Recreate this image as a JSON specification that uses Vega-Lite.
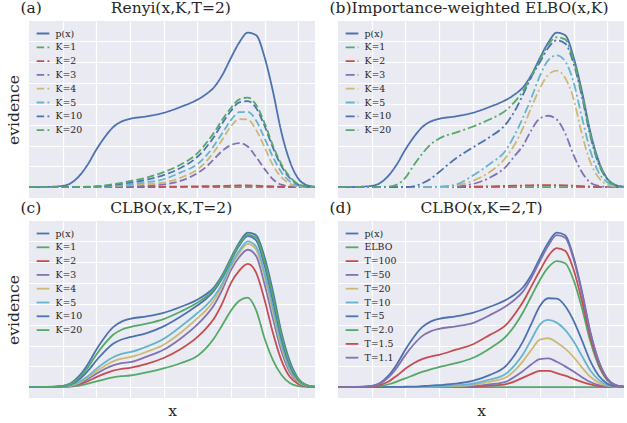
{
"$schema": "https://vega.github.io/schema/vega-lite/v6.json",
"background": "white",
"padding": {"left": 6, "top": 1, "right": 0, "bottom": 0},
"config": {
  "view": {"fill": "#EAEAF2", "stroke": null},
  "axis": {"labels": false, "ticks": false, "domain": false, "gridColor": "white", "gridWidth": 1.2, "gridOpacity": 1, "titleFont": "DejaVu Serif", "titleFontSize": 15.5, "titleFontWeight": "normal", "titleColor": "#262626"},
  "axisX": {"titleBaseline": "alphabetic", "titlePadding": 17},
  "axisY": {"titlePadding": 8},
  "title": {"font": "DejaVu Serif", "fontSize": 15.5, "fontWeight": "normal", "color": "#262626", "anchor": "start", "frame": "group", "dx": -8.5, "baseline": "alphabetic", "offset": 4.5},
  "legend": {"orient": "top-left", "offset": 5, "padding": 0, "labelFont": "DejaVu Serif", "labelFontSize": 9.4, "labelColor": "#262626", "symbolType": "stroke", "symbolSize": 160, "symbolStrokeWidth": 1.8, "symbolOffset": 1.5, "labelOffset": 5, "rowPadding": 1.8}
},
"datasets": {
"da": [
{"x":0,"p(x)":0,"K=1":0,"K=2":0,"K=3":0,"K=4":0,"K=5":0,"K=10":0,"K=20":0},
{"x":0.5,"p(x)":0.01,"K=1":0,"K=2":0,"K=3":0,"K=4":0,"K=5":0,"K=10":0,"K=20":0},
{"x":1,"p(x)":0.06,"K=1":0,"K=2":0,"K=3":0,"K=4":0,"K=5":0,"K=10":0,"K=20":0},
{"x":1.25,"p(x)":0.2,"K=1":0,"K=2":0,"K=3":0,"K=4":0,"K=5":0,"K=10":0,"K=20":0},
{"x":1.5,"p(x)":0.55,"K=1":0,"K=2":0,"K=3":0,"K=4":0,"K=5":0,"K=10":0,"K=20":0.01},
{"x":1.75,"p(x)":1.1,"K=1":0,"K=2":0,"K=3":0,"K=4":0,"K=5":0.01,"K=10":0.01,"K=20":0.02},
{"x":2,"p(x)":1.8,"K=1":0,"K=2":0,"K=3":0.01,"K=4":0.01,"K=5":0.02,"K=10":0.03,"K=20":0.04},
{"x":2.25,"p(x)":2.4,"K=1":0,"K=2":0,"K=3":0.01,"K=4":0.03,"K=5":0.04,"K=10":0.06,"K=20":0.08},
{"x":2.5,"p(x)":2.88,"K=1":0,"K=2":0,"K=3":0.02,"K=4":0.05,"K=5":0.07,"K=10":0.11,"K=20":0.14},
{"x":2.75,"p(x)":3.15,"K=1":0,"K=2":0,"K=3":0.03,"K=4":0.07,"K=5":0.1,"K=10":0.16,"K=20":0.21},
{"x":3,"p(x)":3.28,"K=1":0,"K=2":0.01,"K=3":0.04,"K=4":0.1,"K=5":0.14,"K=10":0.22,"K=20":0.29},
{"x":3.5,"p(x)":3.4,"K=1":0,"K=2":0.01,"K=3":0.07,"K=4":0.15,"K=5":0.24,"K=10":0.36,"K=20":0.46},
{"x":4,"p(x)":3.57,"K=1":0,"K=2":0.02,"K=3":0.13,"K=4":0.22,"K=5":0.38,"K=10":0.58,"K=20":0.72},
{"x":4.5,"p(x)":3.85,"K=1":0,"K=2":0.03,"K=3":0.3,"K=4":0.45,"K=5":0.7,"K=10":0.92,"K=20":1.08},
{"x":5,"p(x)":4.2,"K=1":0,"K=2":0.04,"K=3":0.67,"K=4":0.85,"K=5":1.1,"K=10":1.45,"K=20":1.62},
{"x":5.25,"p(x)":4.45,"K=1":0,"K=2":0.05,"K=3":0.95,"K=4":1.2,"K=5":1.48,"K=10":1.88,"K=20":2.08},
{"x":5.5,"p(x)":4.8,"K=1":0,"K=2":0.05,"K=3":1.35,"K=4":1.7,"K=5":2.0,"K=10":2.42,"K=20":2.62},
{"x":5.75,"p(x)":5.4,"K=1":0,"K=2":0.06,"K=3":1.75,"K=4":2.3,"K=5":2.6,"K=10":3.08,"K=20":3.25},
{"x":6,"p(x)":6.2,"K=1":0,"K=2":0.07,"K=3":2.02,"K=4":2.92,"K=5":3.22,"K=10":3.66,"K=20":3.8},
{"x":6.25,"p(x)":6.95,"K=1":0,"K=2":0.08,"K=3":2.12,"K=4":3.27,"K=5":3.6,"K=10":4.07,"K=20":4.22},
{"x":6.5,"p(x)":7.42,"K=1":0,"K=2":0.08,"K=3":1.95,"K=4":3.25,"K=5":3.62,"K=10":4.13,"K=20":4.3},
{"x":6.75,"p(x)":7.3,"K=1":0,"K=2":0.07,"K=3":1.45,"K=4":2.75,"K=5":3.2,"K=10":3.8,"K=20":3.95},
{"x":7,"p(x)":6.25,"K=1":0,"K=2":0.05,"K=3":0.88,"K=4":1.92,"K=5":2.35,"K=10":2.95,"K=20":3.08},
{"x":7.25,"p(x)":4.6,"K=1":0,"K=2":0.04,"K=3":0.38,"K=4":1.05,"K=5":1.45,"K=10":1.9,"K=20":2.0},
{"x":7.5,"p(x)":2.65,"K=1":0,"K=2":0.02,"K=3":0.12,"K=4":0.48,"K=5":0.72,"K=10":1.02,"K=20":1.1},
{"x":7.75,"p(x)":1.25,"K=1":0,"K=2":0.01,"K=3":0.04,"K=4":0.17,"K=5":0.28,"K=10":0.44,"K=20":0.5},
{"x":8,"p(x)":0.42,"K=1":0,"K=2":0,"K=3":0.01,"K=4":0.04,"K=5":0.07,"K=10":0.13,"K=20":0.15},
{"x":8.25,"p(x)":0.1,"K=1":0,"K=2":0,"K=3":0,"K=4":0.01,"K=5":0.01,"K=10":0.03,"K=20":0.04},
{"x":8.5,"p(x)":0.02,"K=1":0,"K=2":0,"K=3":0,"K=4":0,"K=5":0,"K=10":0,"K=20":0.01}
],
"db": [
{"x":0,"p(x)":0,"K=1":0,"K=2":0,"K=3":0,"K=4":0,"K=5":0,"K=10":0,"K=20":0},
{"x":0.5,"p(x)":0.01,"K=1":0,"K=2":0,"K=3":0,"K=4":0,"K=5":0,"K=10":0,"K=20":0},
{"x":1,"p(x)":0.06,"K=1":0,"K=2":0,"K=3":0,"K=4":0,"K=5":0,"K=10":0,"K=20":0},
{"x":1.25,"p(x)":0.2,"K=1":0,"K=2":0,"K=3":0,"K=4":0,"K=5":0,"K=10":0,"K=20":0},
{"x":1.5,"p(x)":0.55,"K=1":0,"K=2":0,"K=3":0,"K=4":0,"K=5":0,"K=10":0,"K=20":0.02},
{"x":1.75,"p(x)":1.1,"K=1":0,"K=2":0,"K=3":0,"K=4":0,"K=5":0,"K=10":0,"K=20":0.12},
{"x":2,"p(x)":1.8,"K=1":0,"K=2":0,"K=3":0,"K=4":0,"K=5":0,"K=10":0,"K=20":0.45},
{"x":2.25,"p(x)":2.4,"K=1":0,"K=2":0,"K=3":0,"K=4":0,"K=5":0,"K=10":0.04,"K=20":1.05},
{"x":2.5,"p(x)":2.88,"K=1":0,"K=2":0,"K=3":0,"K=4":0,"K=5":0,"K=10":0.18,"K=20":1.6},
{"x":2.75,"p(x)":3.15,"K=1":0,"K=2":0,"K=3":0,"K=4":0,"K=5":0,"K=10":0.4,"K=20":2.05},
{"x":3,"p(x)":3.28,"K=1":0,"K=2":0.01,"K=3":0,"K=4":0,"K=5":0.02,"K=10":0.72,"K=20":2.33},
{"x":3.5,"p(x)":3.4,"K=1":0,"K=2":0.01,"K=3":0.03,"K=4":0.08,"K=5":0.12,"K=10":1.38,"K=20":2.62},
{"x":4,"p(x)":3.57,"K=1":0,"K=2":0.02,"K=3":0.15,"K=4":0.3,"K=5":0.55,"K=10":1.9,"K=20":2.9},
{"x":4.5,"p(x)":3.85,"K=1":0,"K=2":0.04,"K=3":0.45,"K=4":0.72,"K=5":1.1,"K=10":2.4,"K=20":3.25},
{"x":5,"p(x)":4.2,"K=1":0,"K=2":0.06,"K=3":1.0,"K=4":1.45,"K=5":1.8,"K=10":3.05,"K=20":3.7},
{"x":5.25,"p(x)":4.45,"K=1":0,"K=2":0.07,"K=3":1.5,"K=4":2.05,"K=5":2.5,"K=10":3.65,"K=20":4.1},
{"x":5.5,"p(x)":4.8,"K=1":0,"K=2":0.08,"K=3":2.0,"K=4":2.85,"K=5":3.35,"K=10":4.45,"K=20":4.62},
{"x":5.75,"p(x)":5.4,"K=1":0,"K=2":0.09,"K=3":2.75,"K=4":3.85,"K=5":4.3,"K=10":5.3,"K=20":5.35},
{"x":6,"p(x)":6.2,"K=1":0,"K=2":0.1,"K=3":3.3,"K=4":4.75,"K=5":5.35,"K=10":6.0,"K=20":6.1},
{"x":6.25,"p(x)":6.95,"K=1":0,"K=2":0.1,"K=3":3.43,"K=4":5.4,"K=5":6.1,"K=10":6.7,"K=20":6.85},
{"x":6.5,"p(x)":7.42,"K=1":0,"K=2":0.1,"K=3":3.25,"K=4":5.6,"K=5":6.33,"K=10":7.05,"K=20":7.2},
{"x":6.75,"p(x)":7.3,"K=1":0,"K=2":0.09,"K=3":2.6,"K=4":5.25,"K=5":6.05,"K=10":6.9,"K=20":7.1},
{"x":7,"p(x)":6.25,"K=1":0,"K=2":0.07,"K=3":1.55,"K=4":4.25,"K=5":5.05,"K=10":5.95,"K=20":6.1},
{"x":7.25,"p(x)":4.6,"K=1":0,"K=2":0.05,"K=3":0.72,"K=4":2.55,"K=5":3.35,"K=10":4.35,"K=20":4.45},
{"x":7.5,"p(x)":2.65,"K=1":0,"K=2":0.03,"K=3":0.22,"K=4":1.2,"K=5":1.75,"K=10":2.45,"K=20":2.55},
{"x":7.75,"p(x)":1.25,"K=1":0,"K=2":0.01,"K=3":0.06,"K=4":0.45,"K=5":0.7,"K=10":1.1,"K=20":1.15},
{"x":8,"p(x)":0.42,"K=1":0,"K=2":0,"K=3":0.01,"K=4":0.12,"K=5":0.24,"K=10":0.38,"K=20":0.42},
{"x":8.25,"p(x)":0.1,"K=1":0,"K=2":0,"K=3":0,"K=4":0.03,"K=5":0.05,"K=10":0.09,"K=20":0.1},
{"x":8.5,"p(x)":0.02,"K=1":0,"K=2":0,"K=3":0,"K=4":0,"K=5":0.01,"K=10":0.02,"K=20":0.02}
],
"dc": [
{"x":0,"p(x)":0,"K=1":0,"K=2":0,"K=3":0,"K=4":0,"K=5":0,"K=10":0,"K=20":0},
{"x":0.5,"p(x)":0.01,"K=1":0,"K=2":0,"K=3":0,"K=4":0,"K=5":0,"K=10":0.01,"K=20":0.01},
{"x":1,"p(x)":0.06,"K=1":0.01,"K=2":0.015,"K=3":0.02,"K=4":0.025,"K=5":0.03,"K=10":0.04,"K=20":0.05},
{"x":1.25,"p(x)":0.2,"K=1":0.03,"K=2":0.05,"K=3":0.07,"K=4":0.08,"K=5":0.09,"K=10":0.14,"K=20":0.17},
{"x":1.5,"p(x)":0.55,"K=1":0.08,"K=2":0.14,"K=3":0.19,"K=4":0.22,"K=5":0.26,"K=10":0.38,"K=20":0.47},
{"x":1.75,"p(x)":1.1,"K=1":0.17,"K=2":0.29,"K=3":0.39,"K=4":0.46,"K=5":0.53,"K=10":0.78,"K=20":0.95},
{"x":2,"p(x)":1.8,"K=1":0.28,"K=2":0.48,"K=3":0.64,"K=4":0.76,"K=5":0.88,"K=10":1.28,"K=20":1.56},
{"x":2.25,"p(x)":2.4,"K=1":0.38,"K=2":0.65,"K=3":0.87,"K=4":1.02,"K=5":1.19,"K=10":1.72,"K=20":2.09},
{"x":2.5,"p(x)":2.88,"K=1":0.47,"K=2":0.79,"K=3":1.05,"K=4":1.24,"K=5":1.44,"K=10":2.08,"K=20":2.52},
{"x":2.75,"p(x)":3.15,"K=1":0.53,"K=2":0.88,"K=3":1.16,"K=4":1.37,"K=5":1.6,"K=10":2.29,"K=20":2.76},
{"x":3,"p(x)":3.28,"K=1":0.56,"K=2":0.93,"K=3":1.2,"K=4":1.44,"K=5":1.68,"K=10":2.4,"K=20":2.88},
{"x":3.5,"p(x)":3.4,"K=1":0.71,"K=2":1.12,"K=3":1.47,"K=4":1.7,"K=5":1.95,"K=10":2.6,"K=20":3.05},
{"x":4,"p(x)":3.57,"K=1":0.9,"K=2":1.4,"K=3":1.8,"K=4":2.04,"K=5":2.32,"K=10":2.92,"K=20":3.27},
{"x":4.5,"p(x)":3.85,"K=1":1.15,"K=2":1.82,"K=3":2.33,"K=4":2.6,"K=5":2.9,"K=10":3.38,"K=20":3.62},
{"x":5,"p(x)":4.2,"K=1":1.5,"K=2":2.4,"K=3":3.0,"K=4":3.3,"K=5":3.55,"K=10":3.92,"K=20":4.05},
{"x":5.25,"p(x)":4.45,"K=1":1.85,"K=2":2.8,"K=3":3.42,"K=4":3.68,"K=5":3.9,"K=10":4.22,"K=20":4.33},
{"x":5.5,"p(x)":4.8,"K=1":2.35,"K=2":3.3,"K=3":3.95,"K=4":4.18,"K=5":4.35,"K=10":4.63,"K=20":4.72},
{"x":5.75,"p(x)":5.4,"K=1":3.0,"K=2":4.05,"K=3":4.7,"K=4":4.88,"K=5":5.0,"K=10":5.25,"K=20":5.33},
{"x":6,"p(x)":6.2,"K=1":3.67,"K=2":5.0,"K=3":5.62,"K=4":5.78,"K=5":5.88,"K=10":6.07,"K=20":6.13},
{"x":6.25,"p(x)":6.95,"K=1":4.15,"K=2":5.6,"K=3":6.25,"K=4":6.45,"K=5":6.55,"K=10":6.8,"K=20":6.87},
{"x":6.5,"p(x)":7.42,"K=1":4.3,"K=2":5.92,"K=3":6.6,"K=4":6.88,"K=5":7.0,"K=10":7.25,"K=20":7.33},
{"x":6.75,"p(x)":7.3,"K=1":3.7,"K=2":5.5,"K=3":6.3,"K=4":6.6,"K=5":6.75,"K=10":7.05,"K=20":7.18},
{"x":7,"p(x)":6.25,"K=1":2.35,"K=2":4.2,"K=3":4.95,"K=4":5.3,"K=5":5.5,"K=10":5.85,"K=20":6.05},
{"x":7.25,"p(x)":4.6,"K=1":1.3,"K=2":2.6,"K=3":3.3,"K=4":3.6,"K=5":3.8,"K=10":4.15,"K=20":4.38},
{"x":7.5,"p(x)":2.65,"K=1":0.6,"K=2":1.3,"K=3":1.75,"K=4":1.95,"K=5":2.1,"K=10":2.35,"K=20":2.5},
{"x":7.75,"p(x)":1.25,"K=1":0.2,"K=2":0.5,"K=3":0.72,"K=4":0.82,"K=5":0.9,"K=10":1.05,"K=20":1.15},
{"x":8,"p(x)":0.42,"K=1":0.05,"K=2":0.15,"K=3":0.22,"K=4":0.26,"K=5":0.3,"K=10":0.35,"K=20":0.38},
{"x":8.25,"p(x)":0.1,"K=1":0.01,"K=2":0.03,"K=3":0.05,"K=4":0.06,"K=5":0.07,"K=10":0.08,"K=20":0.09},
{"x":8.5,"p(x)":0.02,"K=1":0,"K=2":0,"K=3":0.01,"K=4":0.01,"K=5":0.01,"K=10":0.01,"K=20":0.02}
],
"dd": [
{"x":0,"p(x)":0,"ELBO":0,"T=100":0,"T=50":0,"T=20":0,"T=10":0,"T=5":0,"T=2.0":0,"T=1.5":0,"T=1.1":0},
{"x":0.5,"p(x)":0.01,"ELBO":0,"T=100":0,"T=50":0,"T=20":0,"T=10":0,"T=5":0,"T=2.0":0,"T=1.5":0,"T=1.1":0.01},
{"x":1,"p(x)":0.06,"ELBO":0,"T=100":0,"T=50":0,"T=20":0,"T=10":0,"T=5":0,"T=2.0":0.02,"T=1.5":0.03,"T=1.1":0.05},
{"x":1.25,"p(x)":0.2,"ELBO":0,"T=100":0,"T=50":0,"T=20":0,"T=10":0,"T=5":0,"T=2.0":0.05,"T=1.5":0.1,"T=1.1":0.17},
{"x":1.5,"p(x)":0.55,"ELBO":0,"T=100":0,"T=50":0,"T=20":0,"T=10":0,"T=5":0.01,"T=2.0":0.14,"T=1.5":0.27,"T=1.1":0.47},
{"x":1.75,"p(x)":1.1,"ELBO":0,"T=100":0,"T=50":0,"T=20":0,"T=10":0,"T=5":0.01,"T=2.0":0.27,"T=1.5":0.55,"T=1.1":0.94},
{"x":2,"p(x)":1.8,"ELBO":0,"T=100":0,"T=50":0,"T=20":0,"T=10":0.01,"T=5":0.02,"T=2.0":0.42,"T=1.5":0.88,"T=1.1":1.54},
{"x":2.25,"p(x)":2.4,"ELBO":0,"T=100":0,"T=50":0,"T=20":0.01,"T=10":0.01,"T=5":0.03,"T=2.0":0.58,"T=1.5":1.15,"T=1.1":2.05},
{"x":2.5,"p(x)":2.88,"ELBO":0,"T=100":0,"T=50":0,"T=20":0.01,"T=10":0.02,"T=5":0.05,"T=2.0":0.73,"T=1.5":1.35,"T=1.1":2.45},
{"x":2.75,"p(x)":3.15,"ELBO":0,"T=100":0,"T=50":0.01,"T=20":0.02,"T=10":0.03,"T=5":0.07,"T=2.0":0.86,"T=1.5":1.47,"T=1.1":2.68},
{"x":3,"p(x)":3.28,"ELBO":0,"T=100":0.01,"T=50":0.01,"T=20":0.03,"T=10":0.05,"T=5":0.1,"T=2.0":0.96,"T=1.5":1.55,"T=1.1":2.8},
{"x":3.5,"p(x)":3.4,"ELBO":0,"T=100":0.01,"T=50":0.02,"T=20":0.05,"T=10":0.09,"T=5":0.17,"T=2.0":1.15,"T=1.5":1.8,"T=1.1":2.92},
{"x":4,"p(x)":3.57,"ELBO":0,"T=100":0.02,"T=50":0.05,"T=20":0.11,"T=10":0.17,"T=5":0.3,"T=2.0":1.4,"T=1.5":2.05,"T=1.1":3.08},
{"x":4.5,"p(x)":3.85,"ELBO":0,"T=100":0.07,"T=50":0.13,"T=20":0.26,"T=10":0.36,"T=5":0.58,"T=2.0":1.85,"T=1.5":2.5,"T=1.1":3.45},
{"x":5,"p(x)":4.2,"ELBO":0,"T=100":0.15,"T=50":0.27,"T=20":0.48,"T=10":0.66,"T=5":1.04,"T=2.0":2.45,"T=1.5":3.0,"T=1.1":3.9},
{"x":5.25,"p(x)":4.45,"ELBO":0,"T=100":0.28,"T=50":0.5,"T=20":0.8,"T=10":1.05,"T=5":1.55,"T=2.0":2.95,"T=1.5":3.5,"T=1.1":4.2},
{"x":5.5,"p(x)":4.8,"ELBO":0,"T=100":0.46,"T=50":0.78,"T=20":1.25,"T=10":1.58,"T=5":2.2,"T=2.0":3.6,"T=1.5":4.1,"T=1.1":4.6},
{"x":5.75,"p(x)":5.4,"ELBO":0,"T=100":0.64,"T=50":1.1,"T=20":1.8,"T=10":2.3,"T=5":3.05,"T=2.0":4.38,"T=1.5":4.85,"T=1.1":5.25},
{"x":6,"p(x)":6.2,"ELBO":0,"T=100":0.78,"T=50":1.35,"T=20":2.28,"T=10":3.0,"T=5":3.9,"T=2.0":5.15,"T=1.5":5.6,"T=1.1":6.05},
{"x":6.25,"p(x)":6.95,"ELBO":0,"T=100":0.78,"T=50":1.38,"T=20":2.35,"T=10":3.23,"T=5":4.27,"T=2.0":5.75,"T=1.5":6.3,"T=1.1":6.8},
{"x":6.5,"p(x)":7.42,"ELBO":0,"T=100":0.68,"T=50":1.22,"T=20":2.15,"T=10":3.1,"T=5":4.25,"T=2.0":6.05,"T=1.5":6.68,"T=1.1":7.3},
{"x":6.75,"p(x)":7.3,"ELBO":0,"T=100":0.55,"T=50":1.0,"T=20":1.85,"T=10":2.75,"T=5":3.9,"T=2.0":5.95,"T=1.5":6.55,"T=1.1":7.18},
{"x":7,"p(x)":6.25,"ELBO":0,"T=100":0.4,"T=50":0.75,"T=20":1.45,"T=10":2.2,"T=5":3.2,"T=2.0":5.15,"T=1.5":5.65,"T=1.1":6.15},
{"x":7.25,"p(x)":4.6,"ELBO":0,"T=100":0.25,"T=50":0.48,"T=20":0.95,"T=10":1.5,"T=5":2.25,"T=2.0":3.8,"T=1.5":4.15,"T=1.1":4.52},
{"x":7.5,"p(x)":2.65,"ELBO":0,"T=100":0.13,"T=50":0.25,"T=20":0.5,"T=10":0.8,"T=5":1.25,"T=2.0":2.2,"T=1.5":2.4,"T=1.1":2.6},
{"x":7.75,"p(x)":1.25,"ELBO":0,"T=100":0.05,"T=50":0.1,"T=20":0.22,"T=10":0.35,"T=5":0.55,"T=2.0":1.02,"T=1.5":1.12,"T=1.1":1.22},
{"x":8,"p(x)":0.42,"ELBO":0,"T=100":0.02,"T=50":0.03,"T=20":0.07,"T=10":0.11,"T=5":0.18,"T=2.0":0.34,"T=1.5":0.37,"T=1.1":0.41},
{"x":8.25,"p(x)":0.1,"ELBO":0,"T=100":0,"T=50":0.01,"T=20":0.02,"T=10":0.03,"T=5":0.04,"T=2.0":0.08,"T=1.5":0.09,"T=1.1":0.1},
{"x":8.5,"p(x)":0.02,"ELBO":0,"T=100":0,"T=50":0,"T=20":0,"T=10":0,"T=5":0.01,"T=2.0":0.02,"T=1.5":0.02,"T=1.1":0.02}
]
},
"columns": 2,
"spacing": {"row": 23, "column": 23},
"bounds": "flush",
"resolve": {"scale": {"color": "independent", "strokeDash": "independent"}, "legend": {"color": "independent", "strokeDash": "independent"}},
"concat": [
{
  "width": 286, "height": 177,
  "title": {"text": "(a)\u00a0\u00a0\u00a0\u00a0\u00a0\u00a0\u00a0\u00a0\u00a0\u00a0\u00a0\u00a0\u00a0\u00a0Renyi(x,K,T=2)", "anchor": "start", "frame": "group", "dx": -8.5},
  "data": {"name": "da"},
  "transform": [{"fold": ["p(x)","K=1","K=2","K=3","K=4","K=5","K=10","K=20"], "as": ["series","value"]}],
  "mark": {"type": "line", "strokeWidth": 1.8, "interpolate": "monotone"},
  "encoding": {
    "x": {"field": "x", "type": "quantitative", "scale": {"domain": [0, 8.5], "nice": false, "zero": false}, "axis": {"title": null, "values": [1,2,3,4,5,6,7,8]}},
    "y": {"field": "value", "type": "quantitative", "scale": {"domain": [-0.52, 7.98], "nice": false, "zero": false}, "axis": {"title": "evidence", "values": [0,1,2,3,4,5,6,7]}},
    "color": {"field": "series", "type": "nominal", "scale": {"domain": ["p(x)","K=1","K=2","K=3","K=4","K=5","K=10","K=20"], "range": ["#4C72B0","#55A868","#C44E52","#8172B2","#CCB974","#64B5CD","#4C72B0","#55A868"]}, "legend": {"title": null}},
    "strokeDash": {"field": "series", "type": "nominal", "scale": {"domain": ["p(x)","K=1","K=2","K=3","K=4","K=5","K=10","K=20"], "range": [[1,0],[7.5,3.3],[7.5,3.3],[7.5,3.3],[7.5,3.3],[7.5,3.3],[7.5,3.3],[7.5,3.3]]}, "legend": {"title": null}}
  }
},
{
  "width": 286, "height": 177,
  "title": {"text": "(b)Importance-weighted ELBO(x,K)", "anchor": "start", "frame": "group", "dx": -8.5},
  "data": {"name": "db"},
  "transform": [{"fold": ["p(x)","K=1","K=2","K=3","K=4","K=5","K=10","K=20"], "as": ["series","value"]}],
  "mark": {"type": "line", "strokeWidth": 1.8, "interpolate": "monotone"},
  "encoding": {
    "x": {"field": "x", "type": "quantitative", "scale": {"domain": [0, 8.5], "nice": false, "zero": false}, "axis": {"title": null, "values": [1,2,3,4,5,6,7,8]}},
    "y": {"field": "value", "type": "quantitative", "scale": {"domain": [-0.52, 7.98], "nice": false, "zero": false}, "axis": {"title": null, "values": [0,1,2,3,4,5,6,7]}},
    "color": {"field": "series", "type": "nominal", "scale": {"domain": ["p(x)","K=1","K=2","K=3","K=4","K=5","K=10","K=20"], "range": ["#4C72B0","#55A868","#C44E52","#8172B2","#CCB974","#64B5CD","#4C72B0","#55A868"]}, "legend": {"title": null}},
    "strokeDash": {"field": "series", "type": "nominal", "scale": {"domain": ["p(x)","K=1","K=2","K=3","K=4","K=5","K=10","K=20"], "range": [[1,0],[9,3,2,3],[9,3,2,3],[9,3,2,3],[9,3,2,3],[9,3,2,3],[9,3,2,3],[9,3,2,3]]}, "legend": {"title": null}}
  }
},
{
  "width": 286, "height": 177,
  "title": {"text": "(c)\u00a0\u00a0\u00a0\u00a0\u00a0\u00a0\u00a0\u00a0\u00a0\u00a0\u00a0\u00a0\u00a0\u00a0CLBO(x,K,T=2)", "anchor": "start", "frame": "group", "dx": -8.5},
  "data": {"name": "dc"},
  "transform": [{"fold": ["p(x)","K=1","K=2","K=3","K=4","K=5","K=10","K=20"], "as": ["series","value"]}],
  "mark": {"type": "line", "strokeWidth": 1.8, "interpolate": "monotone"},
  "encoding": {
    "x": {"field": "x", "type": "quantitative", "scale": {"domain": [0, 8.5], "nice": false, "zero": false}, "axis": {"title": "x", "values": [1,2,3,4,5,6,7,8]}},
    "y": {"field": "value", "type": "quantitative", "scale": {"domain": [-0.52, 7.98], "nice": false, "zero": false}, "axis": {"title": "evidence", "values": [0,1,2,3,4,5,6,7]}},
    "color": {"field": "series", "type": "nominal", "scale": {"domain": ["p(x)","K=1","K=2","K=3","K=4","K=5","K=10","K=20"], "range": ["#4C72B0","#55A868","#C44E52","#8172B2","#CCB974","#64B5CD","#4C72B0","#55A868"]}, "legend": {"title": null}}
  }
},
{
  "width": 286, "height": 177,
  "title": {"text": "(d)\u00a0\u00a0\u00a0\u00a0\u00a0\u00a0\u00a0\u00a0\u00a0\u00a0\u00a0\u00a0\u00a0\u00a0CLBO(x,K=2,T)", "anchor": "start", "frame": "group", "dx": -8.5},
  "data": {"name": "dd"},
  "transform": [{"fold": ["p(x)","ELBO","T=100","T=50","T=20","T=10","T=5","T=2\\.0","T=1\\.5","T=1\\.1"], "as": ["series","value"]}],
  "mark": {"type": "line", "strokeWidth": 1.8, "interpolate": "monotone"},
  "encoding": {
    "x": {"field": "x", "type": "quantitative", "scale": {"domain": [0, 8.5], "nice": false, "zero": false}, "axis": {"title": "x", "values": [1,2,3,4,5,6,7,8]}},
    "y": {"field": "value", "type": "quantitative", "scale": {"domain": [-0.52, 7.98], "nice": false, "zero": false}, "axis": {"title": null, "values": [0,1,2,3,4,5,6,7]}},
    "color": {"field": "series", "type": "nominal", "scale": {"domain": ["p(x)","ELBO","T=100","T=50","T=20","T=10","T=5","T=2.0","T=1.5","T=1.1"], "range": ["#4C72B0","#55A868","#C44E52","#8172B2","#CCB974","#64B5CD","#4C72B0","#55A868","#C44E52","#8172B2"]}, "legend": {"title": null}}
  }
}
]
}
